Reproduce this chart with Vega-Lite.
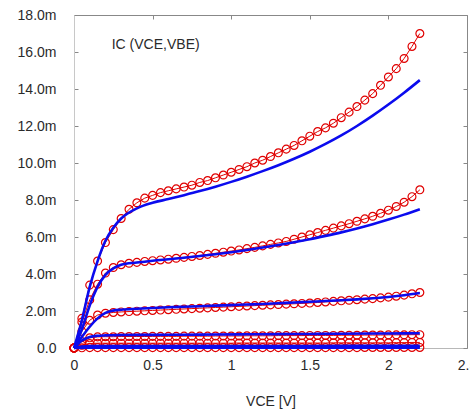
{
  "$schema": "https://vega.github.io/schema/vega-lite/v6.json",
  "width": 393,
  "height": 333,
  "autosize": {"type": "none"},
  "padding": {"left": 74, "top": 15, "right": 3, "bottom": 62},
  "background": "white",
  "config": {
    "view": {"stroke": null},
    "axis": {"labelFont": "Liberation Sans", "titleFont": "Liberation Sans", "labelFontSize": 14, "titleFontSize": 14, "labelColor": "#2a2a2a", "titleColor": "#2a2a2a", "titleFontWeight": "normal", "grid": false, "tickColor": "#888888", "domainColor": "#999999", "labelFlush": false, "labelOverlap": false}
  },
  "datasets": {
    "meas": [
      {"c":1,"v":0,"i":0},{"c":1,"v":0.05,"i":1.6},{"c":1,"v":0.1,"i":3.4},{"c":1,"v":0.15,"i":4.7},{"c":1,"v":0.2,"i":5.7},{"c":1,"v":0.25,"i":6.4},{"c":1,"v":0.3,"i":7.0},{"c":1,"v":0.35,"i":7.5},{"c":1,"v":0.4,"i":7.85},{"c":1,"v":0.45,"i":8.1},{"c":1,"v":0.5,"i":8.25},{"c":1,"v":0.55,"i":8.4},{"c":1,"v":0.6,"i":8.5},{"c":1,"v":0.65,"i":8.6},{"c":1,"v":0.7,"i":8.7},{"c":1,"v":0.75,"i":8.8},{"c":1,"v":0.8,"i":8.95},{"c":1,"v":0.85,"i":9.05},{"c":1,"v":0.9,"i":9.2},{"c":1,"v":0.95,"i":9.35},{"c":1,"v":1.0,"i":9.5},{"c":1,"v":1.05,"i":9.65},{"c":1,"v":1.1,"i":9.8},{"c":1,"v":1.15,"i":10.0},{"c":1,"v":1.2,"i":10.15},{"c":1,"v":1.25,"i":10.35},{"c":1,"v":1.3,"i":10.55},{"c":1,"v":1.35,"i":10.75},{"c":1,"v":1.4,"i":10.95},{"c":1,"v":1.45,"i":11.2},{"c":1,"v":1.5,"i":11.45},{"c":1,"v":1.55,"i":11.7},{"c":1,"v":1.6,"i":11.9},{"c":1,"v":1.65,"i":12.15},{"c":1,"v":1.7,"i":12.45},{"c":1,"v":1.75,"i":12.75},{"c":1,"v":1.8,"i":13.05},{"c":1,"v":1.85,"i":13.4},{"c":1,"v":1.9,"i":13.75},{"c":1,"v":1.95,"i":14.2},{"c":1,"v":2.0,"i":14.65},{"c":1,"v":2.05,"i":15.1},{"c":1,"v":2.1,"i":15.65},{"c":1,"v":2.15,"i":16.3},{"c":1,"v":2.2,"i":17.0},
      {"c":2,"v":0,"i":0},{"c":2,"v":0.05,"i":1.4},{"c":2,"v":0.1,"i":2.6},{"c":2,"v":0.15,"i":3.45},{"c":2,"v":0.2,"i":4.05},{"c":2,"v":0.25,"i":4.35},{"c":2,"v":0.3,"i":4.5},{"c":2,"v":0.35,"i":4.58},{"c":2,"v":0.4,"i":4.63},{"c":2,"v":0.45,"i":4.68},{"c":2,"v":0.5,"i":4.72},{"c":2,"v":0.55,"i":4.76},{"c":2,"v":0.6,"i":4.8},{"c":2,"v":0.65,"i":4.85},{"c":2,"v":0.7,"i":4.9},{"c":2,"v":0.75,"i":4.95},{"c":2,"v":0.8,"i":5.0},{"c":2,"v":0.85,"i":5.06},{"c":2,"v":0.9,"i":5.12},{"c":2,"v":0.95,"i":5.18},{"c":2,"v":1.0,"i":5.24},{"c":2,"v":1.05,"i":5.3},{"c":2,"v":1.1,"i":5.37},{"c":2,"v":1.15,"i":5.44},{"c":2,"v":1.2,"i":5.52},{"c":2,"v":1.25,"i":5.6},{"c":2,"v":1.3,"i":5.68},{"c":2,"v":1.35,"i":5.76},{"c":2,"v":1.4,"i":5.88},{"c":2,"v":1.45,"i":6.0},{"c":2,"v":1.5,"i":6.12},{"c":2,"v":1.55,"i":6.24},{"c":2,"v":1.6,"i":6.36},{"c":2,"v":1.65,"i":6.48},{"c":2,"v":1.7,"i":6.6},{"c":2,"v":1.75,"i":6.72},{"c":2,"v":1.8,"i":6.85},{"c":2,"v":1.85,"i":6.98},{"c":2,"v":1.9,"i":7.12},{"c":2,"v":1.95,"i":7.28},{"c":2,"v":2.0,"i":7.45},{"c":2,"v":2.05,"i":7.65},{"c":2,"v":2.1,"i":7.88},{"c":2,"v":2.15,"i":8.18},{"c":2,"v":2.2,"i":8.55},
      {"c":3,"v":0,"i":0},{"c":3,"v":0.05,"i":0.9},{"c":3,"v":0.1,"i":1.5},{"c":3,"v":0.15,"i":1.78},{"c":3,"v":0.2,"i":1.88},{"c":3,"v":0.25,"i":1.92},{"c":3,"v":0.3,"i":1.95},{"c":3,"v":0.35,"i":1.97},{"c":3,"v":0.4,"i":1.99},{"c":3,"v":0.45,"i":2.01},{"c":3,"v":0.5,"i":2.03},{"c":3,"v":0.55,"i":2.05},{"c":3,"v":0.6,"i":2.07},{"c":3,"v":0.65,"i":2.09},{"c":3,"v":0.7,"i":2.11},{"c":3,"v":0.75,"i":2.13},{"c":3,"v":0.8,"i":2.15},{"c":3,"v":0.85,"i":2.17},{"c":3,"v":0.9,"i":2.19},{"c":3,"v":0.95,"i":2.21},{"c":3,"v":1.0,"i":2.23},{"c":3,"v":1.05,"i":2.25},{"c":3,"v":1.1,"i":2.27},{"c":3,"v":1.15,"i":2.29},{"c":3,"v":1.2,"i":2.31},{"c":3,"v":1.25,"i":2.33},{"c":3,"v":1.3,"i":2.35},{"c":3,"v":1.35,"i":2.37},{"c":3,"v":1.4,"i":2.39},{"c":3,"v":1.45,"i":2.41},{"c":3,"v":1.5,"i":2.43},{"c":3,"v":1.55,"i":2.46},{"c":3,"v":1.6,"i":2.49},{"c":3,"v":1.65,"i":2.52},{"c":3,"v":1.7,"i":2.55},{"c":3,"v":1.75,"i":2.58},{"c":3,"v":1.8,"i":2.61},{"c":3,"v":1.85,"i":2.64},{"c":3,"v":1.9,"i":2.67},{"c":3,"v":1.95,"i":2.71},{"c":3,"v":2.0,"i":2.75},{"c":3,"v":2.05,"i":2.8},{"c":3,"v":2.1,"i":2.86},{"c":3,"v":2.15,"i":2.93},{"c":3,"v":2.2,"i":3.0},
      {"c":4,"v":0,"i":0},{"c":4,"v":0.05,"i":0.35},{"c":4,"v":0.1,"i":0.55},{"c":4,"v":0.15,"i":0.6},{"c":4,"v":0.2,"i":0.61},{"c":4,"v":0.25,"i":0.61},{"c":4,"v":0.3,"i":0.62},{"c":4,"v":0.35,"i":0.62},{"c":4,"v":0.4,"i":0.62},{"c":4,"v":0.45,"i":0.62},{"c":4,"v":0.5,"i":0.63},{"c":4,"v":0.55,"i":0.63},{"c":4,"v":0.6,"i":0.63},{"c":4,"v":0.65,"i":0.63},{"c":4,"v":0.7,"i":0.64},{"c":4,"v":0.75,"i":0.64},{"c":4,"v":0.8,"i":0.64},{"c":4,"v":0.85,"i":0.64},{"c":4,"v":0.9,"i":0.65},{"c":4,"v":0.95,"i":0.65},{"c":4,"v":1.0,"i":0.65},{"c":4,"v":1.05,"i":0.65},{"c":4,"v":1.1,"i":0.66},{"c":4,"v":1.15,"i":0.66},{"c":4,"v":1.2,"i":0.66},{"c":4,"v":1.25,"i":0.66},{"c":4,"v":1.3,"i":0.67},{"c":4,"v":1.35,"i":0.67},{"c":4,"v":1.4,"i":0.67},{"c":4,"v":1.45,"i":0.67},{"c":4,"v":1.5,"i":0.68},{"c":4,"v":1.55,"i":0.68},{"c":4,"v":1.6,"i":0.68},{"c":4,"v":1.65,"i":0.68},{"c":4,"v":1.7,"i":0.69},{"c":4,"v":1.75,"i":0.69},{"c":4,"v":1.8,"i":0.69},{"c":4,"v":1.85,"i":0.7},{"c":4,"v":1.9,"i":0.7},{"c":4,"v":1.95,"i":0.7},{"c":4,"v":2.0,"i":0.71},{"c":4,"v":2.05,"i":0.71},{"c":4,"v":2.1,"i":0.71},{"c":4,"v":2.15,"i":0.72},{"c":4,"v":2.2,"i":0.72},
      {"c":5,"v":0,"i":0},{"c":5,"v":0.05,"i":0.15},{"c":5,"v":0.1,"i":0.24},{"c":5,"v":0.15,"i":0.26},{"c":5,"v":0.2,"i":0.26},{"c":5,"v":0.25,"i":0.26},{"c":5,"v":0.3,"i":0.26},{"c":5,"v":0.35,"i":0.26},{"c":5,"v":0.4,"i":0.26},{"c":5,"v":0.45,"i":0.26},{"c":5,"v":0.5,"i":0.26},{"c":5,"v":0.55,"i":0.26},{"c":5,"v":0.6,"i":0.26},{"c":5,"v":0.65,"i":0.26},{"c":5,"v":0.7,"i":0.26},{"c":5,"v":0.75,"i":0.26},{"c":5,"v":0.8,"i":0.26},{"c":5,"v":0.85,"i":0.26},{"c":5,"v":0.9,"i":0.26},{"c":5,"v":0.95,"i":0.26},{"c":5,"v":1.0,"i":0.26},{"c":5,"v":1.05,"i":0.27},{"c":5,"v":1.1,"i":0.27},{"c":5,"v":1.15,"i":0.27},{"c":5,"v":1.2,"i":0.27},{"c":5,"v":1.25,"i":0.27},{"c":5,"v":1.3,"i":0.27},{"c":5,"v":1.35,"i":0.27},{"c":5,"v":1.4,"i":0.27},{"c":5,"v":1.45,"i":0.27},{"c":5,"v":1.5,"i":0.27},{"c":5,"v":1.55,"i":0.27},{"c":5,"v":1.6,"i":0.27},{"c":5,"v":1.65,"i":0.28},{"c":5,"v":1.7,"i":0.28},{"c":5,"v":1.75,"i":0.28},{"c":5,"v":1.8,"i":0.28},{"c":5,"v":1.85,"i":0.28},{"c":5,"v":1.9,"i":0.28},{"c":5,"v":1.95,"i":0.28},{"c":5,"v":2.0,"i":0.28},{"c":5,"v":2.05,"i":0.29},{"c":5,"v":2.1,"i":0.29},{"c":5,"v":2.15,"i":0.3},{"c":5,"v":2.2,"i":0.3},
      {"c":6,"v":0,"i":0},{"c":6,"v":0.05,"i":0.01},{"c":6,"v":0.1,"i":0.02},{"c":6,"v":0.15,"i":0.02},{"c":6,"v":0.2,"i":0.02},{"c":6,"v":0.25,"i":0.02},{"c":6,"v":0.3,"i":0.02},{"c":6,"v":0.35,"i":0.02},{"c":6,"v":0.4,"i":0.02},{"c":6,"v":0.45,"i":0.02},{"c":6,"v":0.5,"i":0.02},{"c":6,"v":0.55,"i":0.02},{"c":6,"v":0.6,"i":0.02},{"c":6,"v":0.65,"i":0.02},{"c":6,"v":0.7,"i":0.02},{"c":6,"v":0.75,"i":0.02},{"c":6,"v":0.8,"i":0.02},{"c":6,"v":0.85,"i":0.02},{"c":6,"v":0.9,"i":0.02},{"c":6,"v":0.95,"i":0.02},{"c":6,"v":1.0,"i":0.02},{"c":6,"v":1.05,"i":0.02},{"c":6,"v":1.1,"i":0.02},{"c":6,"v":1.15,"i":0.02},{"c":6,"v":1.2,"i":0.02},{"c":6,"v":1.25,"i":0.02},{"c":6,"v":1.3,"i":0.02},{"c":6,"v":1.35,"i":0.02},{"c":6,"v":1.4,"i":0.02},{"c":6,"v":1.45,"i":0.02},{"c":6,"v":1.5,"i":0.02},{"c":6,"v":1.55,"i":0.02},{"c":6,"v":1.6,"i":0.02},{"c":6,"v":1.65,"i":0.02},{"c":6,"v":1.7,"i":0.02},{"c":6,"v":1.75,"i":0.02},{"c":6,"v":1.8,"i":0.02},{"c":6,"v":1.85,"i":0.03},{"c":6,"v":1.9,"i":0.03},{"c":6,"v":1.95,"i":0.03},{"c":6,"v":2.0,"i":0.03},{"c":6,"v":2.05,"i":0.03},{"c":6,"v":2.1,"i":0.03},{"c":6,"v":2.15,"i":0.03},{"c":6,"v":2.2,"i":0.03}
    ],
    "sim": [
      {"c":1,"v":0,"i":0},{"c":1,"v":0.05,"i":1.5},{"c":1,"v":0.1,"i":3.3},{"c":1,"v":0.15,"i":4.7},{"c":1,"v":0.2,"i":5.8},{"c":1,"v":0.25,"i":6.5},{"c":1,"v":0.3,"i":7.0},{"c":1,"v":0.4,"i":7.55},{"c":1,"v":0.5,"i":7.85},{"c":1,"v":0.6,"i":8.05},{"c":1,"v":0.7,"i":8.26},{"c":1,"v":0.8,"i":8.48},{"c":1,"v":0.9,"i":8.72},{"c":1,"v":1.0,"i":8.98},{"c":1,"v":1.1,"i":9.26},{"c":1,"v":1.2,"i":9.56},{"c":1,"v":1.3,"i":9.88},{"c":1,"v":1.4,"i":10.23},{"c":1,"v":1.5,"i":10.61},{"c":1,"v":1.6,"i":11.03},{"c":1,"v":1.7,"i":11.49},{"c":1,"v":1.8,"i":12.0},{"c":1,"v":1.9,"i":12.56},{"c":1,"v":2.0,"i":13.16},{"c":1,"v":2.1,"i":13.8},{"c":1,"v":2.2,"i":14.48},
      {"c":2,"v":0,"i":0},{"c":2,"v":0.05,"i":1.0},{"c":2,"v":0.1,"i":2.3},{"c":2,"v":0.15,"i":3.3},{"c":2,"v":0.2,"i":3.95},{"c":2,"v":0.25,"i":4.3},{"c":2,"v":0.3,"i":4.5},{"c":2,"v":0.4,"i":4.62},{"c":2,"v":0.5,"i":4.72},{"c":2,"v":0.6,"i":4.8},{"c":2,"v":0.7,"i":4.88},{"c":2,"v":0.8,"i":4.97},{"c":2,"v":0.9,"i":5.07},{"c":2,"v":1.0,"i":5.18},{"c":2,"v":1.1,"i":5.3},{"c":2,"v":1.2,"i":5.43},{"c":2,"v":1.3,"i":5.57},{"c":2,"v":1.4,"i":5.72},{"c":2,"v":1.5,"i":5.88},{"c":2,"v":1.6,"i":6.06},{"c":2,"v":1.7,"i":6.25},{"c":2,"v":1.8,"i":6.46},{"c":2,"v":1.9,"i":6.69},{"c":2,"v":2.0,"i":6.94},{"c":2,"v":2.1,"i":7.21},{"c":2,"v":2.2,"i":7.5},
      {"c":3,"v":0,"i":0},{"c":3,"v":0.05,"i":0.6},{"c":3,"v":0.1,"i":1.15},{"c":3,"v":0.15,"i":1.6},{"c":3,"v":0.2,"i":1.9},{"c":3,"v":0.25,"i":2.02},{"c":3,"v":0.3,"i":2.07},{"c":3,"v":0.4,"i":2.12},{"c":3,"v":0.5,"i":2.16},{"c":3,"v":0.6,"i":2.2},{"c":3,"v":0.7,"i":2.23},{"c":3,"v":0.8,"i":2.26},{"c":3,"v":0.9,"i":2.29},{"c":3,"v":1.0,"i":2.32},{"c":3,"v":1.1,"i":2.35},{"c":3,"v":1.2,"i":2.38},{"c":3,"v":1.3,"i":2.42},{"c":3,"v":1.4,"i":2.46},{"c":3,"v":1.5,"i":2.5},{"c":3,"v":1.6,"i":2.54},{"c":3,"v":1.7,"i":2.58},{"c":3,"v":1.8,"i":2.63},{"c":3,"v":1.9,"i":2.69},{"c":3,"v":2.0,"i":2.76},{"c":3,"v":2.1,"i":2.85},{"c":3,"v":2.2,"i":2.97},
      {"c":4,"v":0,"i":0},{"c":4,"v":0.05,"i":0.4},{"c":4,"v":0.1,"i":0.6},{"c":4,"v":0.15,"i":0.66},{"c":4,"v":0.2,"i":0.68},{"c":4,"v":0.25,"i":0.69},{"c":4,"v":0.3,"i":0.7},{"c":4,"v":0.5,"i":0.71},{"c":4,"v":0.7,"i":0.72},{"c":4,"v":0.9,"i":0.73},{"c":4,"v":1.1,"i":0.74},{"c":4,"v":1.3,"i":0.75},{"c":4,"v":1.5,"i":0.76},{"c":4,"v":1.7,"i":0.77},{"c":4,"v":1.9,"i":0.78},{"c":4,"v":2.1,"i":0.79},{"c":4,"v":2.2,"i":0.8},
      {"c":5,"v":0,"i":0},{"c":5,"v":0.05,"i":0.08},{"c":5,"v":0.1,"i":0.1},{"c":5,"v":0.5,"i":0.1},{"c":5,"v":1.0,"i":0.11},{"c":5,"v":1.5,"i":0.11},{"c":5,"v":2.0,"i":0.12},{"c":5,"v":2.2,"i":0.12},
      {"c":6,"v":0,"i":0},{"c":6,"v":0.1,"i":0.01},{"c":6,"v":1.0,"i":0.01},{"c":6,"v":2.2,"i":0.02}
    ]
  },
  "layer": [
    {
      "data": {"name": "meas"},
      "mark": {"type": "line", "color": "#e00000", "strokeWidth": 1, "clip": false},
      "encoding": {
        "x": {"field": "v", "type": "quantitative", "scale": {"domain": [0, 2.5], "nice": false},
              "axis": {"orient": "bottom", "values": [0, 0.5, 1, 1.5, 2, 2.5], "format": "~g", "title": "VCE [V]", "titlePadding": 22, "tickSize": -4, "labelPadding": 14, "domainColor": "#b8b8b8"}},
        "y": {"field": "i", "type": "quantitative", "scale": {"domain": [0, 18], "nice": false},
              "axis": {"orient": "left", "values": [0, 2, 4, 6, 8, 10, 12, 14, 16, 18], "labelExpr": "datum.value == 0 ? '0.0' : format(datum.value, '.1f') + 'm'", "title": null, "tickSize": -4, "labelPadding": 22, "domainColor": "#c8c8c8"}},
        "detail": {"field": "c"}
      }
    },
    {
      "data": {"name": "meas"},
      "mark": {"type": "point", "shape": "circle", "filled": false, "stroke": "#e00000", "strokeWidth": 1.2, "size": 62, "opacity": 1},
      "encoding": {
        "x": {"field": "v", "type": "quantitative", "axis": null},
        "y": {"field": "i", "type": "quantitative", "axis": null}
      }
    },
    {
      "data": {"name": "sim"},
      "mark": {"type": "line", "color": "#0b0bee", "strokeWidth": 2.6, "interpolate": "monotone"},
      "encoding": {
        "x": {"field": "v", "type": "quantitative", "axis": null},
        "y": {"field": "i", "type": "quantitative", "axis": null},
        "detail": {"field": "c"}
      }
    },
    {
      "data": {"values": [{"v": 0, "i": 0}]},
      "mark": {"type": "point", "opacity": 0},
      "encoding": {
        "x": {"field": "v", "type": "quantitative", "axis": {"orient": "top", "values": [0, 0.5, 1, 1.5, 2, 2.5], "labels": false, "title": null, "tickSize": -4, "domainColor": "#888888"}},
        "y": {"field": "i", "type": "quantitative", "axis": {"orient": "right", "values": [0, 2, 4, 6, 8, 10, 12, 14, 16, 18], "labels": false, "title": null, "tickSize": -4, "domainColor": "#888888"}}
      }
    },
    {
      "data": {"values": [{"label": "IC (VCE,VBE)", "v": 0.24, "i": 16.4}]},
      "mark": {"type": "text", "align": "left", "baseline": "middle", "font": "Liberation Sans", "fontSize": 14, "color": "#2a2a2a"},
      "encoding": {
        "x": {"field": "v", "type": "quantitative", "axis": null},
        "y": {"field": "i", "type": "quantitative", "axis": null},
        "text": {"field": "label"}
      }
    }
  ],
  "resolve": {"axis": {"x": "independent", "y": "independent"}}
}
